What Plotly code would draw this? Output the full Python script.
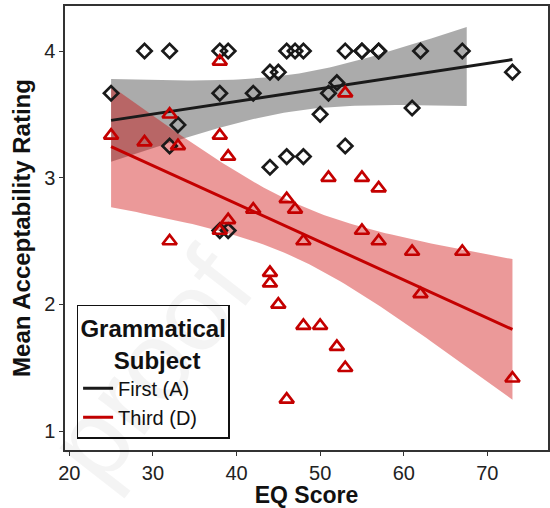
import numpy as np
import plotly.graph_objects as go

# ---------------- data ----------------
eq_first = [25, 29, 32, 32, 33, 38, 38, 38, 39, 39, 42, 44, 44, 45, 46, 46,
            47, 48, 48, 50, 51, 52, 53, 53, 55, 55, 57, 57, 61, 62, 67, 73]
rating_first = [3.667, 4.0, 4.0, 3.25, 3.417, 4.0, 3.667, 2.583, 4.0, 2.583,
                3.667, 3.833, 3.083, 3.833, 4.0, 3.167, 4.0, 4.0, 3.167, 3.5,
                3.667, 3.75, 4.0, 3.25, 4.0, 4.0, 4.0, 4.0, 3.55, 4.0, 4.0, 3.833]

eq_third = [25, 29, 32, 32, 33, 38, 38, 38, 39, 39, 42, 44, 44, 45, 46, 46,
            47, 48, 48, 50, 51, 52, 53, 53, 55, 55, 57, 57, 61, 62, 67, 73]
rating_third = [3.333, 3.28, 3.5, 2.5, 3.25, 3.917, 3.333, 2.583, 3.167, 2.667,
                2.75, 2.25, 2.167, 2.0, 2.833, 1.25, 2.75, 2.5, 1.833, 1.833,
                3.0, 1.667, 3.667, 1.5, 3.0, 2.583, 2.917, 2.5, 2.417, 2.083,
                2.417, 1.417]

group_names = ["First (A)", "Third (D)"]
x_ticks = [20, 30, 40, 50, 60, 70]
y_ticks = [1, 2, 3, 4]
y_limits = (1.0, 4.2)

BLACK = "#1a1a1a"
RED = "#C40000"


def smooth(x, y, lo_lim, hi_lim, npts=80):
    x = np.asarray(x, float)
    y = np.asarray(y, float)
    n = len(x)
    b, a = np.polyfit(x, y, 1)
    xs = np.linspace(x.min(), x.max(), npts)
    fit = a + b * xs
    resid = y - (a + b * x)
    s = np.sqrt(np.sum(resid ** 2) / (n - 2))
    sxx = np.sum((x - x.mean()) ** 2)
    se = s * np.sqrt(1.0 / n + (xs - x.mean()) ** 2 / sxx)
    t = 2.0423  # t(0.975, df=30)
    lo = fit - t * se
    hi = fit + t * se
    keep = (hi <= hi_lim) & (lo >= lo_lim)
    return xs, fit, lo, hi, keep


fig = go.Figure()

groups = [(eq_first, rating_first, BLACK, "rgba(0,0,0,0.33)"),
          (eq_third, rating_third, RED, "rgba(204,0,0,0.40)")]

fits = []
for x, y, col, fillc in groups:
    xs, fit, lo, hi, keep = smooth(x, y, *y_limits)
    fits.append((xs, fit))
    xr = xs[keep]
    fig.add_trace(go.Scatter(
        x=np.concatenate([xr, xr[::-1]]),
        y=np.concatenate([hi[keep], lo[keep][::-1]]),
        fill="toself", fillcolor=fillc, line=dict(width=0),
        mode="lines", hoverinfo="skip", showlegend=False))

for (xs, fit), (x, y, col, fillc), name in zip(fits, groups, group_names):
    fig.add_trace(go.Scatter(x=xs, y=fit, mode="lines", name=name,
                             line=dict(color=col, width=3)))

fig.add_trace(go.Scatter(x=eq_first, y=rating_first, mode="markers",
                         showlegend=False,
                         marker=dict(symbol="diamond-open", size=11, color=BLACK,
                                     line=dict(width=2.7, color=BLACK))))
fig.add_trace(go.Scatter(x=eq_third, y=rating_third, mode="markers",
                         showlegend=False,
                         marker=dict(symbol="triangle-up-open", size=12.5, color=RED,
                                     line=dict(width=2.7, color=RED))))

axis_common = dict(showline=True, mirror=True, linecolor="#333333", linewidth=1.5,
                   ticks="outside", ticklen=4, tickwidth=1.2, tickcolor="#333333",
                   showgrid=False, zeroline=False, automargin=False,
                   tickfont=dict(size=20, color="#222222"))

fig.update_layout(
    width=550, height=508,
    margin=dict(l=65, r=1.5, t=6, b=57.5),
    paper_bgcolor="white", plot_bgcolor="white",
    font=dict(family="Liberation Sans, Arial, sans-serif", color="#111111"),
    xaxis=dict(range=[19.49, 77.25], tickvals=x_ticks, **axis_common,
               title=dict(text="<b>EQ Score</b>", font=dict(size=23, color="#111111"),
                          standoff=6)),
    yaxis=dict(range=[0.852, 4.355], tickvals=y_ticks, **axis_common,
               title=dict(text="<b>Mean Acceptability Rating</b>",
                          font=dict(size=24, color="#111111"), standoff=7)),
    legend=dict(x=0.024, y=0.327, xanchor="left", yanchor="top",
                bgcolor="white", bordercolor="#111111", borderwidth=1.5,
                font=dict(size=20, color="#111111"),
                title=dict(text="<b>Grammatical<br>&nbsp;&nbsp;&nbsp;&nbsp;&nbsp;Subject</b>",
                           font=dict(size=24, color="#111111"), side="top center"),
                tracegroupgap=2),
    showlegend=True,
)

fig.add_annotation(text="proof", xref="paper", yref="paper", x=0.176, y=0.19,
                   xanchor="center", yanchor="middle",
                   showarrow=False, textangle=-52,
                   font=dict(size=112, color="rgba(0,0,0,0.045)",
                             family="Liberation Sans, Arial, sans-serif"))

fig.write_html("out.html")
